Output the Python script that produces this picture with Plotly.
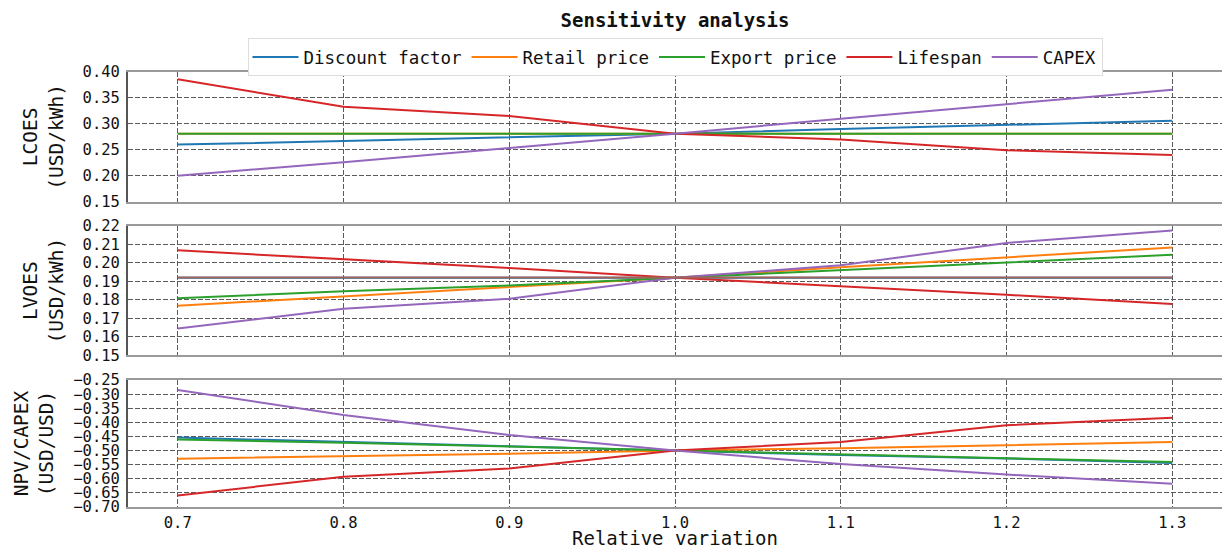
import plotly.graph_objects as go
from plotly.subplots import make_subplots

# ---------------- data ----------------
rel_variation = [0.7, 0.8, 0.9, 1.0, 1.1, 1.2, 1.3]
rel_tick_labels = ["0.7", "0.8", "0.9", "1.0", "1.1", "1.2", "1.3"]
series_names = ["Discount factor", "Retail price", "Export price", "Lifespan", "CAPEX"]

# LCOES (USD/kWh)
lcoes_discount = [0.260, 0.267, 0.274, 0.281, 0.290, 0.298, 0.306]
lcoes_retail = [0.281, 0.281, 0.281, 0.281, 0.281, 0.281, 0.281]
lcoes_export = [0.281, 0.281, 0.281, 0.281, 0.281, 0.281, 0.281]
lcoes_lifespan = [0.386, 0.333, 0.315, 0.281, 0.270, 0.249, 0.240]
lcoes_capex = [0.200, 0.226, 0.2535, 0.281, 0.310, 0.338, 0.366]

# LVOES (USD/kWh)
lvoes_discount = [0.192, 0.192, 0.192, 0.192, 0.192, 0.192, 0.192]
lvoes_retail = [0.1768, 0.1818, 0.1871, 0.192, 0.1976, 0.2028, 0.2084]
lvoes_export = [0.1808, 0.1846, 0.1878, 0.192, 0.1961, 0.2005, 0.2044]
lvoes_lifespan = [0.2068, 0.2021, 0.1972, 0.192, 0.1874, 0.1827, 0.1777]
lvoes_capex = [0.1645, 0.1751, 0.1806, 0.192, 0.1987, 0.2108, 0.2175]
lvoes_reference = [0.1921, 0.1921, 0.1921, 0.1921, 0.1921, 0.1921, 0.1921]

# NPV/CAPEX (USD/USD)
npv_discount = [-0.454, -0.469, -0.484, -0.500, -0.516, -0.528, -0.544]
npv_retail = [-0.529, -0.521, -0.511, -0.500, -0.492, -0.481, -0.470]
npv_export = [-0.461, -0.472, -0.486, -0.500, -0.515, -0.529, -0.541]
npv_lifespan = [-0.659, -0.593, -0.564, -0.500, -0.470, -0.410, -0.384]
npv_capex = [-0.2855, -0.374, -0.445, -0.500, -0.548, -0.585, -0.618]

lcoes_ticks = [0.15, 0.20, 0.25, 0.30, 0.35, 0.40]
lvoes_ticks = [0.15, 0.16, 0.17, 0.18, 0.19, 0.20, 0.21, 0.22]
npv_ticks = [-0.70, -0.65, -0.60, -0.55, -0.50, -0.45, -0.40, -0.35, -0.30, -0.25]

# ---------------- style ----------------
colors = ["#1f77b4", "#ff7f0e", "#2ca02c", "#d62728", "#9467bd"]
ref_color = "#a0645a"
FONT = "DejaVu Sans Mono"
GRID = "#5a5a5a"

fig = make_subplots(rows=3, cols=1, shared_xaxes=True)

panels = [
    (1, [lcoes_discount, lcoes_retail, lcoes_export, lcoes_lifespan, lcoes_capex]),
    (2, [lvoes_discount, lvoes_retail, lvoes_export, lvoes_lifespan, lvoes_capex]),
    (3, [npv_discount, npv_retail, npv_export, npv_lifespan, npv_capex]),
]
for row, data in panels:
    for i, name in enumerate(series_names):
        fig.add_trace(
            go.Scatter(
                x=rel_variation, y=data[i], mode="lines", name=name,
                legendgroup=name, showlegend=(row == 1),
                line=dict(color=colors[i], width=2),
            ),
            row=row, col=1,
        )
fig.add_trace(
    go.Scatter(x=rel_variation, y=lvoes_reference, mode="lines", name="Reference",
               showlegend=False, line=dict(color=ref_color, width=2.2)),
    row=2, col=1,
)

xcommon = dict(
    range=[0.67, 1.33], tickvals=rel_variation, ticktext=rel_tick_labels,
    showgrid=True, gridcolor=GRID, gridwidth=1, griddash="5px,2px",
    showline=True, linecolor="#9a9a9a", linewidth=2, mirror=True,
    zeroline=False, ticks="",
    tickfont=dict(family=FONT, size=15.5, color="#111"),
)
ycommon = dict(
    showgrid=True, gridcolor=GRID, gridwidth=1, griddash="5px,2px",
    showline=True, linecolor="#555", linewidth=2, mirror=False,
    zeroline=False, ticks="", ticklabelstandoff=3,
    tickfont=dict(family=FONT, size=15.5, color="#111"),
    title_font=dict(family=FONT, size=19.5, color="#111"),
    title_standoff=14, automargin=False,
)

fig.update_xaxes(**xcommon)
fig.update_xaxes(showticklabels=False, row=1, col=1)
fig.update_xaxes(showticklabels=False, row=2, col=1)

fig.update_yaxes(**ycommon)
fig.update_yaxes(range=[0.15, 0.40], tickvals=lcoes_ticks, tickformat=".2f",
                 title_text="LCOES<br>(USD/kWh)", domain=[0.702, 1.0], row=1, col=1)
fig.update_yaxes(range=[0.15, 0.22], tickvals=lvoes_ticks, tickformat=".2f",
                 title_text="LVOES<br>(USD/kWh)", domain=[0.349, 0.646], row=2, col=1)
fig.update_yaxes(range=[-0.70, -0.25], tickvals=npv_ticks, tickformat=".2f",
                 title_text="NPV/CAPEX<br>(USD/USD)", domain=[0.0, 0.292], row=3, col=1)

# x-axis title placed as an annotation so it can sit at the very bottom edge
fig.add_annotation(
    text="Relative variation", xref="paper", yref="paper",
    x=0.5, y=(507 - 537.5) / 435, xanchor="center", yanchor="middle",
    showarrow=False, font=dict(family=FONT, size=19, color="#111"),
)

fig.update_layout(
    width=1223, height=548,
    margin=dict(l=128, r=1, t=72, b=41),
    paper_bgcolor="white", plot_bgcolor="white",
    font=dict(family=FONT, color="#111"),
    title=dict(
        text="Sensitivity analysis", x=0.5, xanchor="center", xref="paper",
        y=1 - 20 / 548, yanchor="middle", yref="container",
        font=dict(family=FONT, size=19, color="#111", weight="bold"),
    ),
    legend=dict(
        orientation="h", x=0.5, xanchor="center", y=1.078, yanchor="top",
        font=dict(family=FONT, size=17.5, color="#111"),
        bgcolor="white", bordercolor="#dddddd", borderwidth=1,
        itemwidth=46,
    ),
    showlegend=True,
)

fig.write_html("out.html")
